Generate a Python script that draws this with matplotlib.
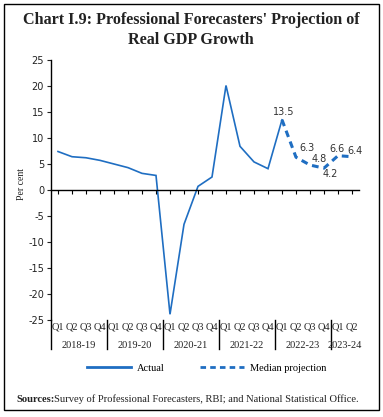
import matplotlib
matplotlib.use("Agg")
import matplotlib.pyplot as plt
from matplotlib.patches import Rectangle
from matplotlib.lines import Line2D
import matplotlib.transforms as mtransforms

plt.rcParams["axes.unicode_minus"] = False

# data
years = ["2018-19", "2019-20", "2020-21", "2021-22", "2022-23", "2023-24"]
quarters = ["Q1", "Q2", "Q3", "Q4"] * 5 + ["Q1", "Q2"]
actual = [7.4, 6.4, 6.2, 5.7, 5.0, 4.3, 3.2, 2.8,
          -23.9, -6.6, 0.7, 2.5, 20.1, 8.4, 5.4, 4.1, 13.5]
projection = [13.5, 6.3, 4.8, 4.2, 6.6, 6.4]
proj_labels = ["13.5", "6.3", "4.8", "4.2", "6.6", "6.4"]
label_offsets = [(2, 8), (11, 9), (9, 6), (6, -6), (-1, 7), (3, 6)]

blue = "#1f6ec2"
serif = "Liberation Serif"

W, H = 383, 417
fig = plt.figure(figsize=(W / 100, H / 100), dpi=100)

def px(x, y):
    return x / W, 1 - y / H

# axes: y=25 at px 60, y=-25 at px 320; x from px 51 to 359
ax = fig.add_axes([51 / W, 1 - 320 / H, (359 - 51) / W, 260 / H])
ax.set_xlim(-0.5, 21.5)
ax.set_ylim(-25, 25)

x_act = list(range(len(actual)))
x_proj = list(range(len(actual) - 1, len(actual) - 1 + len(projection)))
ax.plot(x_act, actual, color=blue, lw=1.2, solid_joinstyle="miter")
ax.plot(x_proj, projection, color=blue, lw=2.2, dashes=(2.2, 1.6))

for xi, v, lab, (dx, dy) in zip(x_proj, projection, proj_labels, label_offsets):
    ax.annotate(lab, (xi, v), xytext=(dx, dy), textcoords="offset pixels",
                ha="center", va="center", fontsize=7, color="#333333")

ax.spines["top"].set_visible(False)
ax.spines["right"].set_visible(False)
ax.spines["bottom"].set_position(("data", 0))
ax.spines["bottom"].set_linewidth(1)
ax.spines["left"].set_linewidth(1)

ax.set_yticks(range(-25, 26, 5))
ax.tick_params(axis="y", length=3, width=0.8, labelsize=7, pad=2, colors="#222222")
ax.set_xticks(range(len(quarters)))
ax.set_xticklabels([])
ax.tick_params(axis="x", length=3, width=0.8, direction="out")

# quarter and year labels below the plot
trans = mtransforms.blended_transform_factory(ax.transData, fig.transFigure)
for i, q in enumerate(quarters):
    ax.text(i, 1 - 327 / H, q, transform=trans, ha="center", va="center",
            fontsize=7.5, family=serif, color="#222222")
starts = [0, 4, 8, 12, 16, 20]
ends = [3, 7, 11, 15, 19, 21]
for yr, s, e in zip(years, starts, ends):
    ax.text((s + e) / 2, 1 - 345 / H, yr, transform=trans, ha="center",
            va="center", fontsize=7.5, family=serif, color="#222222")
for b in [-0.5, 3.5, 7.5, 11.5, 15.5, 19.5]:
    ax.add_line(Line2D([b, b], [1 - 320 / H, 1 - 349 / H], transform=trans,
                       color="black", lw=1, clip_on=False))

fig.text(*px(21, 184), "Per cent", rotation=90, ha="center", va="center",
         fontsize=7, family=serif, color="#222222")

# title
fig.text(*px(191, 20), "Chart I.9: Professional Forecasters' Projection of",
         ha="center", va="center", fontsize=11.6, fontweight="bold", family=serif,
         color="#222222")
fig.text(*px(191, 40), "Real GDP Growth", ha="center", va="center",
         fontsize=11.6, fontweight="bold", family=serif, color="#222222")

# legend
handles = [Line2D([], [], color=blue, lw=2),
           Line2D([], [], color=blue, lw=2, dashes=(2, 1.5))]
fig.legend(handles, ["Actual", "Median projection"], loc="center",
           bbox_to_anchor=px(207, 368), ncol=2, frameon=False,
           prop={"family": serif, "size": 7.5}, handlelength=4.2,
           columnspacing=3.4, handletextpad=0.6)

# sources
fig.text(*px(16, 399), "Sources:", ha="left", va="center", fontsize=7.6,
         fontweight="bold", family=serif, color="#222222")
fig.text(*px(54, 399),
         "Survey of Professional Forecasters, RBI; and National Statistical Office.",
         ha="left", va="center", fontsize=7.6, family=serif, color="#222222")

# frame around the whole chart
fig.add_artist(Rectangle(px(4, 410), 375 / W, 406 / H, transform=fig.transFigure,
                         fill=False, edgecolor="black", lw=1))

fig.savefig("out.png", dpi=100)
